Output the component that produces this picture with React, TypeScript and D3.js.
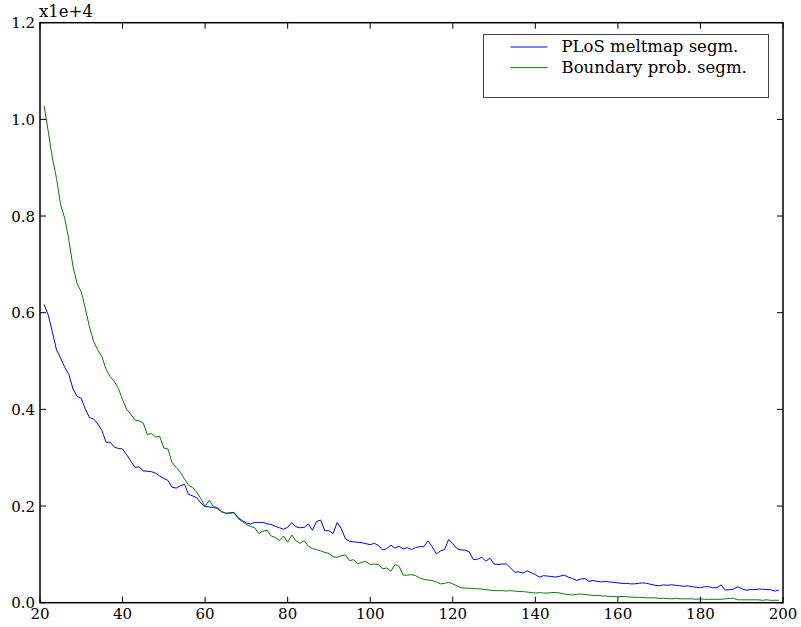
import React from "react";
import * as d3 from "d3";

const xStart = 21;
const plosValues = [
  6170, 5950, 5600, 5230, 5060, 4870, 4720, 4420, 4270, 4230,
  4000, 3830, 3800, 3700, 3560, 3320, 3320, 3220, 3190, 3180,
  3060, 2930, 2800, 2810, 2730, 2720, 2710, 2680, 2620, 2570,
  2530, 2390, 2370, 2420, 2450, 2240, 2210, 2170, 2060, 1990,
  1980, 1970, 1950, 1880, 1850, 1860, 1870, 1760, 1700, 1650,
  1630, 1660, 1660, 1660, 1630, 1620, 1580, 1550, 1520, 1560,
  1660, 1570, 1550, 1560, 1630, 1500, 1680, 1710, 1490, 1490,
  1430, 1660, 1530, 1320, 1270, 1260, 1250, 1240, 1220, 1200,
  1230, 1180, 1090, 1120, 1190, 1130, 1170, 1110, 1140, 1100,
  1140, 1160, 1160, 1280, 1160, 1010, 1070, 1100, 1310, 1220,
  1120, 1090, 1090, 1050, 890, 900, 940, 860, 920, 800,
  790, 800, 800, 720, 630, 640, 610, 660, 620, 580,
  530, 560, 550, 540, 530, 550, 570, 530, 500, 460,
  490, 500, 440, 460, 440, 430, 440, 430, 420, 410,
  400, 400, 390, 390, 400, 410, 400, 380, 360, 350,
  370, 360, 370, 360, 350, 340, 350, 330, 320, 310,
  330, 330, 310, 310, 370, 260, 270, 280, 330, 290,
  260, 270, 270, 280, 280, 270, 270, 240, 260,
];
const boundaryValues = [
  10280, 9750, 9200, 8780, 8230, 7950, 7500, 6950, 6600, 6430,
  6080, 5700, 5400, 5230, 5090, 4830, 4680, 4580, 4430, 4200,
  4000, 3900, 3780, 3760, 3720, 3480, 3500, 3430, 3440, 3200,
  3180, 2900, 2800, 2700, 2560, 2430, 2380, 2280, 2150, 1990,
  2120, 1990, 1970, 1890, 1850, 1850, 1860, 1740, 1680, 1620,
  1580, 1550, 1430, 1480, 1500, 1380, 1350, 1290, 1380, 1250,
  1400, 1280, 1230, 1280, 1170, 1120, 1100, 1070, 1040, 1020,
  950, 940, 970, 990, 870, 890, 800, 840, 850, 790,
  800, 790, 700, 720, 650, 790, 750, 570, 570, 580,
  560, 510, 480, 470, 460, 430, 390, 400, 420, 390,
  350, 310, 300, 300, 290, 290, 280, 270, 260, 250,
  250, 250, 240, 250, 240, 230, 230, 220, 210, 200,
  210, 200, 200, 210, 210, 200, 180, 170, 160, 170,
  180, 170, 160, 150, 150, 140, 140, 130, 130, 120,
  130, 120, 120, 110, 110, 110, 100, 100, 100, 90,
  90, 90, 80, 90, 80, 80, 80, 80, 70, 80,
  70, 70, 70, 70, 70, 80, 90, 90, 60, 60,
  60, 60, 60, 60, 50, 60, 50, 50, 50,
];
const seriesNames = ["PLoS meltmap segm.", "Boundary prob. segm."];
const seriesColors = ["#0000ff", "#008000"];
const xTicks = [20, 40, 60, 80, 100, 120, 140, 160, 180, 200];
const yTicks = [0, 2000, 4000, 6000, 8000, 10000, 12000];
const offsetLabel = "x1e+4";

const W = 801;
const H = 627;
const M = { left: 40, right: 18, top: 22.7, bottom: 24.3 };
const FONT = "'DejaVu Serif', serif";

export default function App() {
  const x = d3.scaleLinear().domain([20, 200]).range([M.left, W - M.right]);
  const y = d3.scaleLinear().domain([0, 12000]).range([H - M.bottom, M.top]);
  const line = d3
    .line<number>()
    .x((_, i) => x(xStart + i))
    .y((d) => y(d));
  const series = [plosValues, boundaryValues];
  const x0 = x(20), x1 = x(200), y0 = y(0), y1 = y(12000);
  const tl = 6;
  const lgX = 483.5, lgY = 34.5;
  return (
    <svg
      width={W}
      height={H}
      style={{ position: "absolute", left: 0, top: 0, background: "#fff" }}
      fontFamily={FONT}
    >
      <rect x={0} y={0} width={W} height={H} fill="#fff" />
      {series.map((s, i) => (
        <path key={i} d={line(s) || ""} fill="none" stroke={seriesColors[i]} strokeWidth={1} />
      ))}
      {xTicks.map((t) => (
        <g key={"x" + t}>
          <line x1={x(t)} x2={x(t)} y1={y0} y2={y0 - tl} stroke="#000" strokeWidth={1} />
          <line x1={x(t)} x2={x(t)} y1={y1} y2={y1 + tl} stroke="#000" strokeWidth={1} />
          <text x={x(t)} y={619} textAnchor="middle" fontSize={15} fill="#000">
            {t}
          </text>
        </g>
      ))}
      {yTicks.map((t) => (
        <g key={"y" + t}>
          <line x1={x0} x2={x0 + tl} y1={y(t)} y2={y(t)} stroke="#000" strokeWidth={1} />
          <line x1={x1} x2={x1 - tl} y1={y(t)} y2={y(t)} stroke="#000" strokeWidth={1} />
          <text x={35} y={y(t) + 5.5} textAnchor="end" fontSize={15} fill="#000">
            {(t / 10000).toFixed(1)}
          </text>
        </g>
      ))}
      <text x={39} y={17.3} fontSize={16.5} fill="#000">
        {offsetLabel}
      </text>
      <rect x={x0} y={y1} width={x1 - x0} height={y0 - y1} fill="none" stroke="#000" strokeWidth={1.5} />
      <g>
        <rect x={lgX} y={lgY} width={285} height={63} fill="#fff" stroke="#444" strokeWidth={1} />
        {seriesNames.map((n, i) => (
          <g key={n}>
            <line
              x1={lgX + 27}
              x2={lgX + 64}
              y1={lgY + 12.5 + i * 20.6}
              y2={lgY + 12.5 + i * 20.6}
              stroke={seriesColors[i]}
              strokeWidth={1}
            />
            <text x={lgX + 78} y={lgY + 17.5 + i * 20.6} fontSize={16.5} fill="#000">
              {n}
            </text>
          </g>
        ))}
      </g>
    </svg>
  );
}
